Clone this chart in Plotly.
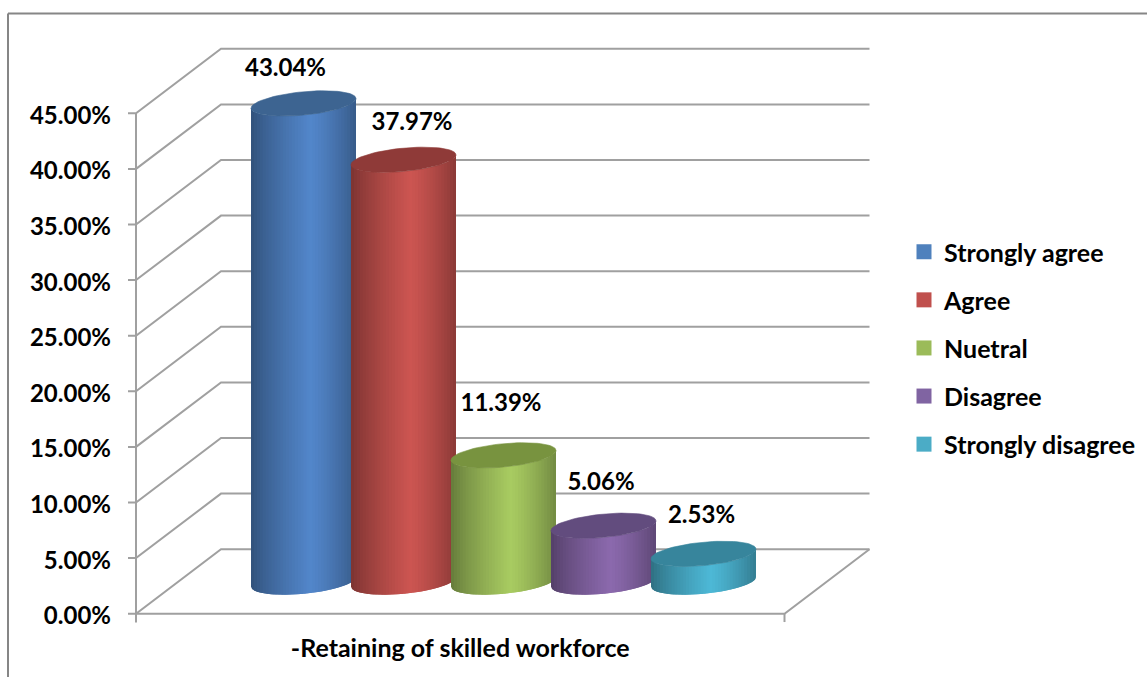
import math
import plotly.graph_objects as go

# ---- data ----
SERIES = ["Strongly agree", "Agree", "Nuetral", "Disagree", "Strongly disagree"]
VALUES = [43.04, 37.97, 11.39, 5.06, 2.53]
TICKS = [0, 5, 10, 15, 20, 25, 30, 35, 40, 45]
CATEGORY = "-Retaining of skilled workforce"

# ---- style ----
LEGEND_COLORS = ["#4F81BD", "#C0504D", "#9BBB59", "#8064A2", "#4BACC6"]
BODY_COLORS = ["#5286CA", "#CC5551", "#A8CB61", "#8B69AD", "#4DB8D6"]
TOP_COLORS = ["#3D6491", "#8F3A38", "#78933F", "#624C7E", "#37859C"]
GRID = "#A0A0A0"
FRAME = "#868686"
FONT = "Lato"
LABEL_DX = [-0.18, 0.085, -0.025, -0.025, -0.02]   # slots
LABEL_DY = [3.00, 3.18, 4.53, 3.73, 3.28]          # percent points

# ---- scale set-up: 1 slot = 100 px, 1 percent point = 11.12 px ----
W, H = 1147, 677
PX_X, PX_Y = 100.0, 11.12
X0_PX, Y0_PX = 303.5, 613.7
xrange_ = [(0 - X0_PX) / PX_X, (W - X0_PX) / PX_X]
yrange_ = [(Y0_PX - H) / PX_Y, Y0_PX / PX_Y]
FRONT_L, FRONT_R = (136 - X0_PX) / PX_X, (784.5 - X0_PX) / PX_X
DEPTH_X, DEPTH_Y = 0.85, 5.8
BASE = 2.85
RX, RY, TILT = 0.525, 1.05, 0.436
STRIPS = 36


def shade(hex_color, p):
    f = 0.60 + 0.40 * (p / 0.56) ** 0.8 if p < 0.56 else 1.0 - 0.32 * ((p - 0.56) / 0.44) ** 1.3
    r, g, b = (int(hex_color[i:i + 2], 16) for i in (1, 3, 5))
    return f"rgb({r * f:.0f},{g * f:.0f},{b * f:.0f})"


def front_edge(u, level):
    return level - RY * math.sqrt(max(0.0, 1 - u * u)) + TILT * u


fig = go.Figure()

# grid: front edge -> back wall for every tick, plus tick stubs left of the axis
gx, gy = [], []
for t in TICKS:
    gx += [FRONT_L - 0.08, FRONT_L, FRONT_L + DEPTH_X, FRONT_R + DEPTH_X, None]
    gy += [t, t, t + DEPTH_Y, t + DEPTH_Y, None]
gx += [FRONT_R + DEPTH_X, FRONT_R, FRONT_L, None, FRONT_L, FRONT_L, None, FRONT_R, FRONT_R]
gy += [DEPTH_Y, 0, 0, None, TICKS[-1], -0.8, None, 0, -0.75]
fig.add_trace(go.Scatter(x=gx, y=gy, mode="lines", line=dict(color=GRID, width=2),
                         showlegend=False, hoverinfo="skip"))

# cylinders, left to right; every strip overlaps the next so no seams show
for i, (name, value) in enumerate(zip(SERIES, VALUES)):
    top = BASE + value
    for s in range(STRIPS):
        u0 = -1 + 2 * s / STRIPS
        u1 = min(1.0, -1 + 2 * (s + 2) / STRIPS)
        us = [u0 + (u1 - u0) * k / 5 for k in range(6)]
        xs = [i + RX * u for u in us] + [i + RX * u for u in reversed(us)]
        ys = [front_edge(u, top) for u in us] + [front_edge(u, BASE) for u in reversed(us)]
        col = shade(BODY_COLORS[i], (s + 0.5) / STRIPS)
        fig.add_trace(go.Scatter(x=xs, y=ys, mode="lines", fill="toself", fillcolor=col,
                                 line=dict(color=col, width=0),
                                 showlegend=False, hoverinfo="skip"))
    ts = [2 * math.pi * k / 72 for k in range(73)]
    fig.add_trace(go.Scatter(x=[i + RX * math.cos(t) for t in ts],
                             y=[top + RY * math.sin(t) + TILT * math.cos(t) for t in ts],
                             mode="lines", fill="toself", fillcolor=TOP_COLORS[i],
                             line=dict(color=TOP_COLORS[i], width=0.6),
                             showlegend=False, hoverinfo="skip"))

# value labels
fig.add_trace(go.Scatter(
    x=[i + d for i, d in enumerate(LABEL_DX)],
    y=[BASE + v + d for v, d in zip(VALUES, LABEL_DY)],
    mode="text", text=[f"{v:.2f}%" for v in VALUES], textposition="middle center",
    textfont=dict(family=FONT, size=24, color="#000000", weight="bold"),
    showlegend=False, hoverinfo="skip"))

# legend entries
for name, col in zip(SERIES, LEGEND_COLORS):
    fig.add_trace(go.Scatter(x=[None], y=[None], mode="markers", name=name, legendgroup=name,
                             marker=dict(symbol="square", size=15, color=col)))

fig.update_layout(
    width=W, height=H, autosize=False,
    margin=dict(l=0, r=0, t=0, b=0),
    paper_bgcolor="#FFFFFF", plot_bgcolor="#FFFFFF",
    font=dict(family=FONT, size=24, color="#000000", weight="bold"),
    hovermode=False,
    xaxis=dict(range=xrange_, domain=[0, 1], showgrid=False, zeroline=False, showline=False,
               tickmode="array", tickvals=[(FRONT_L + FRONT_R) / 2], ticktext=[CATEGORY],
               ticks="outside", ticklen=1, tickcolor="rgba(0,0,0,0)", ticklabelstandoff=11,
               anchor="free", position=(H - Y0_PX) / H,
               tickfont=dict(family=FONT, size=25, color="#000000", weight="bold")),
    yaxis=dict(range=yrange_, domain=[0, 1], showgrid=False, zeroline=False, showline=False,
               tickmode="array", tickvals=TICKS, ticktext=[f"{t:.2f}%" for t in TICKS],
               ticks="", ticklabelstandoff=25, ticklabelshift=2,
               anchor="free", position=136 / W,
               tickfont=dict(family=FONT, size=24, color="#000000", weight="bold")),
    legend=dict(x=904 / W, y=1 - 229 / H, xanchor="left", yanchor="top",
                traceorder="grouped", tracegroupgap=12.6, itemsizing="trace",
                bgcolor="rgba(0,0,0,0)", font=dict(family=FONT, size=25, color="#000000", weight="bold")),
    shapes=[dict(type="line", xref="paper", yref="paper", x0=8 / W, x1=8 / W, y0=0, y1=1 - 13.5 / H,
                 line=dict(color=FRAME, width=2)),
            dict(type="line", xref="paper", yref="paper", x0=8 / W, x1=1, y0=1 - 13.5 / H, y1=1 - 13.5 / H,
                 line=dict(color=FRAME, width=2))],
)

fig.write_html("out.html", config={"displayModeBar": False},
               post_script="document.body.style.margin='0';document.documentElement.style.overflow='hidden';")
